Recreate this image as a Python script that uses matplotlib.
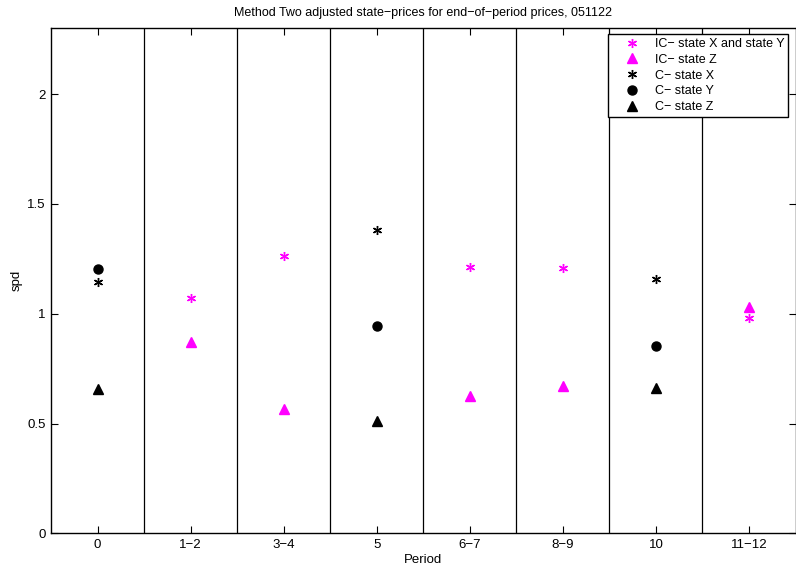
import numpy as np
import matplotlib
matplotlib.use("Agg")
import matplotlib.pyplot as plt
from matplotlib.legend_handler import HandlerLine2D

plt.rcParams['font.family'] = ['Liberation Sans', 'DejaVu Sans']

# period labels on the x axis
periods = ['0', '1\u22122', '3\u22124', '5', '6\u22127', '8\u22129', '10', '11\u221212']

# IC series (magenta) - positions are indices into periods
ic_idx = [1, 2, 4, 5, 7]
ic_xy = [1.072, 1.261, 1.211, 1.208, 0.979]
ic_z = [0.869, 0.567, 0.624, 0.670, 1.031]

# C series (black)
c_idx = [0, 3, 6]
c_x = [1.143, 1.382, 1.159]
c_y = [1.204, 0.944, 0.853]
c_z = [0.656, 0.511, 0.660]

asterisk = (6, 2, 0)


class OffsetMarkerHandler(HandlerLine2D):
    # put the legend marker a bit right of the handle centre (matlab look)
    def get_xdata(self, legend, xdescent, ydescent, width, height, fontsize):
        xdata = [-xdescent, -xdescent + width]
        return xdata, [-xdescent + 0.68 * width]


fig = plt.figure(figsize=(7.96, 5.66), dpi=100)
ax = fig.add_axes([51/796, 1 - 533.3/566, 744.5/796, 505/566])

xpos = np.arange(1, len(periods) + 1)
ic_x = xpos[ic_idx]
c_xp = xpos[c_idx]

ax.plot(ic_x, ic_xy, linestyle='none', marker=asterisk, color='#ff00ff', markersize=6.5,
        markeredgewidth=1, label='IC\u2212 state X and state Y')
ax.plot(ic_x, ic_z, linestyle='none', marker='^', color='#ff00ff', markersize=7.5,
        label='IC\u2212 state Z')
ax.plot(c_xp, c_x, linestyle='none', marker=asterisk, color='black', markersize=6.5,
        markeredgewidth=1, label='C\u2212 state X')
ax.plot(c_xp, c_y, linestyle='none', marker='o', color='black', markersize=6.5,
        label='C\u2212 state Y')
ax.plot(c_xp, c_z, linestyle='none', marker='^', color='black', markersize=7.5,
        label='C\u2212 state Z')

# separators between periods
for xv in xpos[:-1] + 0.5:
    ax.axvline(xv, color='black', linewidth=0.9, zorder=0)

ax.set_xlim(0.5, len(periods) + 0.5)
ax.set_ylim(0, 2.3)
ax.set_xticks(xpos)
ax.set_xticklabels(periods)
ax.set_yticks([0, 0.5, 1, 1.5, 2])
ax.set_yticklabels(['0', '0.5', '1', '1.5', '2'])
ax.tick_params(direction='in', length=5, width=0.8, top=True, right=True, labelsize=9.5, pad=4)
for s in ax.spines.values():
    s.set_linewidth(1)

ax.set_xlabel('Period', fontsize=9.5, labelpad=2)
ax.set_ylabel('spd', fontsize=9.5, labelpad=3)
ax.set_title('Method Two adjusted state\u2212prices for end\u2212of\u2212period prices, 051122',
             fontsize=9, pad=9)

leg = ax.legend(loc='upper left', bbox_to_anchor=((608 - 51) / 744.5, 1 - 6/505),
                borderaxespad=0, fancybox=False, framealpha=1, edgecolor='black',
                fontsize=9, handletextpad=0.26, labelspacing=0.3, borderpad=0.3,
                handlelength=3.2, handler_map={plt.Line2D: OffsetMarkerHandler()})
leg.get_frame().set_linewidth(1)

fig.savefig('out.png', dpi=100)
